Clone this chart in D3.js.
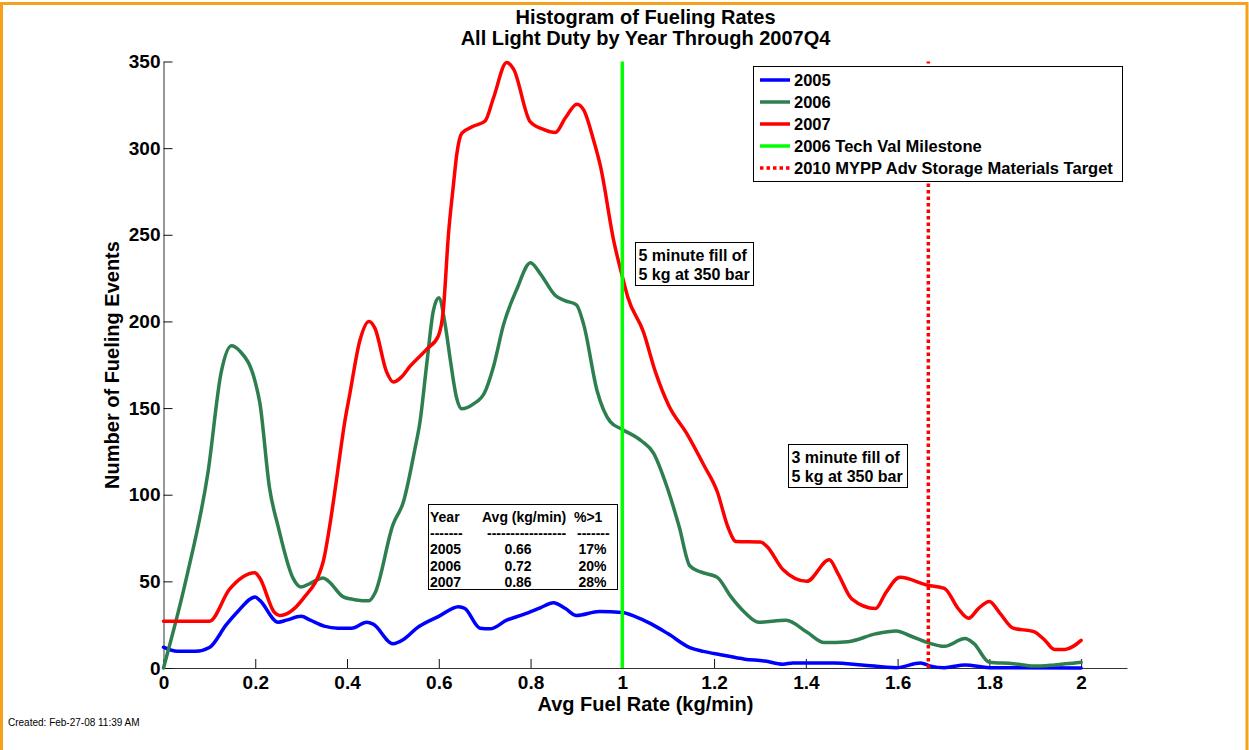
<!DOCTYPE html>
<html>
<head>
<meta charset="utf-8">
<script src="https://cdn.jsdelivr.net/npm/d3@7"></script>
<style>
  body { margin: 0; background: #fff; }
  svg { display: block; font-family: "Liberation Sans", Arial, Helvetica, sans-serif; }
</style>
</head>
<body>
<svg id="chart" width="1249" height="750"></svg>
<script>
// Fueling-rate histograms (counts per rate bin), one series per year
const rate2005 = [0, 0.03, 0.07, 0.10, 0.137, 0.16, 0.20, 0.21, 0.25, 0.268, 0.30, 0.32, 0.35, 0.38, 0.41, 0.443, 0.457, 0.50, 0.523, 0.552, 0.60, 0.643, 0.657, 0.69, 0.712, 0.748, 0.785, 0.821, 0.85, 0.876, 0.90, 0.95, 1.00, 1.027, 1.064, 1.10, 1.147, 1.177, 1.214, 1.267, 1.311, 1.35, 1.372, 1.462, 1.522, 1.597, 1.65, 1.672, 1.702, 1.747, 1.80, 2.0];
const events2005 = [12, 9.6, 9.6, 11.8, 25, 32, 41, 39, 26.4, 27.6, 29.8, 27.6, 24.2, 23, 23, 26.4, 25.3, 14, 16.4, 23, 29.8, 35.4, 34.3, 23, 22.6, 27.6, 30.9, 34.7, 37.7, 34.3, 30.3, 32.6, 32, 29.8, 25.3, 19.7, 11.8, 9.6, 7.7, 5.1, 4, 2.2, 2.9, 2.9, 1.8, 0.2, 2.9, 1.1, 0.2, 1.8, 0.2, 0];

const rate2006 = [0, 0.05, 0.097, 0.126, 0.148, 0.166, 0.20, 0.21, 0.231, 0.25, 0.282, 0.30, 0.32, 0.348, 0.36, 0.392, 0.42, 0.448, 0.461, 0.50, 0.523, 0.548, 0.559, 0.574, 0.588, 0.60, 0.614, 0.625, 0.639, 0.65, 0.675, 0.70, 0.719, 0.741, 0.77, 0.80, 0.821, 0.854, 0.876, 0.90, 0.916, 0.945, 0.974, 1.00, 1.042, 1.068, 1.098, 1.124, 1.147, 1.169, 1.207, 1.237, 1.267, 1.297, 1.357, 1.402, 1.44, 1.492, 1.552, 1.597, 1.627, 1.665, 1.702, 1.747, 1.766, 1.80, 1.852, 1.897, 1.942, 2.0];
const events2006 = [0, 52, 113, 171, 186, 183, 165, 153, 104, 81.5, 52, 46.7, 48.9, 52, 50, 41, 39.3, 38.8, 43.3, 82.6, 96, 126.5, 142, 176, 206, 213.7, 198, 178, 155.7, 149.6, 152.3, 159, 173.7, 198, 218.6, 233.9, 227.6, 215, 211.9, 209.6, 198, 160, 142, 137.7, 131, 124, 104, 81.5, 59, 55.6, 52.3, 41, 32, 26.4, 27.6, 20.8, 14.7, 15.2, 19.7, 21.3, 18.6, 14.7, 12.5, 17, 14.2, 3.3, 2.5, 1.1, 1.8, 3.3];

const rate2007 = [0, 0.10, 0.144, 0.199, 0.209, 0.242, 0.253, 0.304, 0.348, 0.362, 0.377, 0.395, 0.406, 0.428, 0.448, 0.461, 0.486, 0.501, 0.519, 0.537, 0.574, 0.599, 0.61, 0.621, 0.632, 0.639, 0.65, 0.675, 0.701, 0.719, 0.748, 0.763, 0.799, 0.828, 0.854, 0.876, 0.901, 0.916, 0.938, 0.952, 0.982, 1.001, 1.012, 1.046, 1.072, 1.102, 1.14, 1.177, 1.207, 1.23, 1.248, 1.301, 1.315, 1.35, 1.402, 1.451, 1.47, 1.50, 1.552, 1.574, 1.605, 1.665, 1.702, 1.732, 1.755, 1.776, 1.80, 1.822, 1.852, 1.897, 1.92, 1.942, 1.965, 2.0];
const events2007 = [27, 27, 45.5, 55, 52.3, 32, 30.3, 39.9, 61.3, 81.5, 108.5, 142, 158, 189, 200, 196, 171, 165, 168, 174, 184, 191.6, 207, 250, 279, 296, 308.5, 312.6, 315.7, 328.8, 349.4, 345.6, 315.3, 310.8, 309, 317.5, 325.4, 322, 304, 290, 245.6, 225, 214, 194, 171, 151, 135.5, 117.4, 101.7, 81.5, 73, 72.7, 70.2, 56.8, 50, 62.4, 54.5, 39.9, 34.3, 43.3, 52.3, 47.8, 46, 34.3, 28.7, 34.3, 38.4, 32, 23, 21, 16.3, 10.7, 10.7, 15.9];

// Reference rates (kg/min): 5 kg in 5 minutes, 5 kg in 3 minutes
const milestoneRate = 1.0;
const targetRate = 1.667;

const xTicks = [0, 0.2, 0.4, 0.6, 0.8, 1.0, 1.2, 1.4, 1.6, 1.8, 2.0];
const xTickLabels = ["0", "0.2", "0.4", "0.6", "0.8", "1", "1.2", "1.4", "1.6", "1.8", "2"];
const yTicks = [0, 50, 100, 150, 200, 250, 300, 350];

const legendLabels = ["2005", "2006", "2007", "2006 Tech Val Milestone", "2010 MYPP Adv Storage Materials Target"];
const tableHeader = ["Year", "Avg (kg/min)", "%>1"];
const tableRows = [["2005", "0.66", "17%"], ["2006", "0.72", "20%"], ["2007", "0.86", "28%"]];

const colors = { y2005: "#0000ff", y2006: "#2e7f50", y2007: "#ff0000", milestone: "#00ff00", target: "#ff0000" };

const svg = d3.select("#chart");

// page frame
svg.append("rect")
  .attr("x", 1.5).attr("y", 3.5).attr("width", 1245.5).attr("height", 800)
  .attr("fill", "none").attr("stroke", "#f6a11c").attr("stroke-width", 3);

const x = d3.scaleLinear().domain([0, 2.1]).range([163.5, 1127]);
const y = d3.scaleLinear().domain([0, 350]).range([668, 61.5]);

// axes (ticks point inward)
const xAxis = svg.append("g")
  .attr("transform", `translate(0,${y(0)})`)
  .call(d3.axisBottom(x).tickValues(xTicks).tickFormat((d, i) => xTickLabels[i])
    .tickSizeInner(-9).tickSizeOuter(0).tickPadding(8));
const yAxis = svg.append("g")
  .attr("transform", `translate(${x(0)},0)`)
  .call(d3.axisLeft(y).tickValues(yTicks).tickFormat(d3.format("d"))
    .tickSizeInner(-9).tickSizeOuter(0).tickPadding(3));
[xAxis, yAxis].forEach(g => {
  g.attr("font-family", null).attr("font-size", null);
  g.select(".domain").attr("stroke", "#333");
  g.selectAll(".tick line").attr("stroke", "#111");
  g.selectAll(".tick text").attr("fill", "#000").style("font-size", "19px").style("font-weight", "bold");
});

// histogram curves
const line = d3.line().x(d => x(d[0])).y(d => y(d[1])).curve(d3.curveMonotoneX);
const series = [
  { rate: rate2005, events: events2005, color: colors.y2005 },
  { rate: rate2006, events: events2006, color: colors.y2006 },
  { rate: rate2007, events: events2007, color: colors.y2007 }
];
svg.append("g").selectAll("path").data(series).join("path")
  .attr("d", s => line(d3.zip(s.rate, s.events)))
  .attr("fill", "none").attr("stroke", s => s.color)
  .attr("stroke-width", 3.5).attr("stroke-linejoin", "round").attr("stroke-linecap", "round");

// reference lines
svg.append("line")
  .attr("x1", x(milestoneRate)).attr("x2", x(milestoneRate)).attr("y1", y(0)).attr("y2", y(350))
  .attr("stroke", colors.milestone).attr("stroke-width", 3.5);
svg.append("line")
  .attr("x1", x(targetRate)).attr("x2", x(targetRate)).attr("y1", y(0)).attr("y2", y(350))
  .attr("stroke", colors.target).attr("stroke-width", 3.5).attr("stroke-dasharray", "3.5,3");

// titles
const bold = sel => sel.attr("font-weight", "bold").attr("fill", "#000");
svg.append("text").attr("x", 645.5).attr("y", 24).attr("text-anchor", "middle")
  .attr("font-size", 20).call(bold).text("Histogram of Fueling Rates");
svg.append("text").attr("x", 645.5).attr("y", 45).attr("text-anchor", "middle")
  .attr("font-size", 20).call(bold).text("All Light Duty by Year Through 2007Q4");
svg.append("text").attr("x", 645.5).attr("y", 711).attr("text-anchor", "middle")
  .attr("font-size", 20).call(bold).text("Avg Fuel Rate (kg/min)");
svg.append("text").attr("transform", "translate(119,365) rotate(-90)").attr("text-anchor", "middle")
  .attr("font-size", 20).call(bold).text("Number of Fueling Events");
svg.append("text").attr("x", 8).attr("y", 726).attr("font-size", 10).attr("fill", "#000")
  .text("Created: Feb-27-08 11:39 AM");

// legend
const legend = svg.append("g");
legend.append("rect").attr("x", 753.5).attr("y", 66.5).attr("width", 369).attr("height", 115)
  .attr("fill", "#fff").attr("stroke", "#000").attr("stroke-width", 1);
const legendColors = [colors.y2005, colors.y2006, colors.y2007, colors.milestone, colors.target];
legendLabels.forEach((lab, i) => {
  const cy = 80 + i * 22;
  legend.append("line").attr("x1", 760).attr("x2", 790).attr("y1", cy).attr("y2", cy)
    .attr("stroke", legendColors[i]).attr("stroke-width", 3.5)
    .attr("stroke-dasharray", i === 4 ? "3.5,3" : null);
  legend.append("text").attr("x", 794).attr("y", cy + 6).attr("font-size", 16.5).call(bold).text(lab);
});

// annotation boxes
function noteBox(x0, y0, w, h, lines) {
  const g = svg.append("g");
  g.append("rect").attr("x", x0).attr("y", y0).attr("width", w).attr("height", h)
    .attr("fill", "#fff").attr("stroke", "#000").attr("stroke-width", 1);
  lines.forEach((t, i) => g.append("text").attr("x", x0 + 3).attr("y", y0 + 18 + i * 19.5)
    .attr("font-size", 16).call(bold).text(t));
}
noteBox(635.5, 242.5, 118, 43, ["5 minute fill of", "5 kg at 350 bar"]);
noteBox(788.5, 444.5, 119, 43, ["3 minute fill of", "5 kg at 350 bar"]);

// summary table
const tbl = svg.append("g").attr("font-size", 14).attr("font-weight", "bold").attr("fill", "#000");
tbl.append("rect").attr("x", 428.5).attr("y", 504.5).attr("width", 189).attr("height", 85)
  .attr("fill", "#fff").attr("stroke", "#000").attr("stroke-width", 1);
tbl.append("text").attr("x", 430).attr("y", 522).text(tableHeader[0]);
tbl.append("text").attr("x", 482).attr("y", 522).text(tableHeader[1]);
tbl.append("text").attr("x", 574).attr("y", 522).text(tableHeader[2]);
tbl.append("text").attr("x", 430).attr("y", 538).text("-------");
tbl.append("text").attr("x", 487).attr("y", 538).text("-----------------");
tbl.append("text").attr("x", 577).attr("y", 538).text("-------");
tableRows.forEach((r, i) => {
  const by = 554 + i * 16.5;
  tbl.append("text").attr("x", 430).attr("y", by).text(r[0]);
  tbl.append("text").attr("x", 518).attr("y", by).attr("text-anchor", "middle").text(r[1]);
  tbl.append("text").attr("x", 592.5).attr("y", by).attr("text-anchor", "middle").text(r[2]);
});
</script>
</body>
</html>
